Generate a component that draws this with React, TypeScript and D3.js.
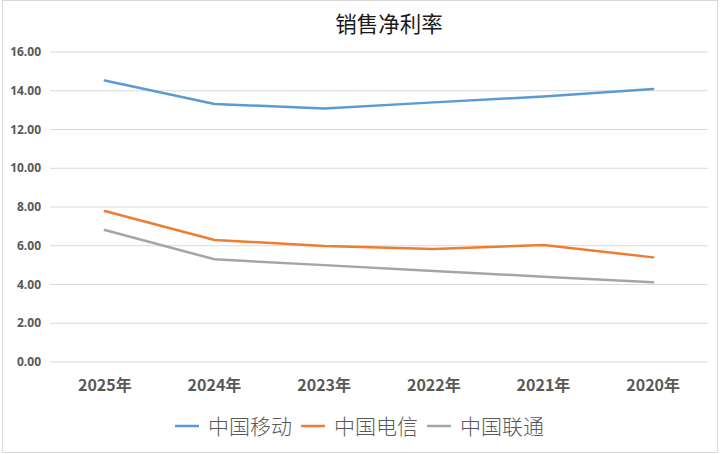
import React from "react";
import * as d3 from "d3";

const categories = ["2025年", "2024年", "2023年", "2022年", "2021年", "2020年"];
const seriesNames = ["中国移动", "中国电信", "中国联通"];
const mobile = [14.53, 13.32, 13.08, 13.4, 13.7, 14.09];
const telecom = [7.79, 6.3, 5.99, 5.83, 6.04, 5.4];
const unicom = [6.81, 5.3, 5.0, 4.7, 4.4, 4.11];
const yTicks = [0, 2, 4, 6, 8, 10, 12, 14, 16];
const colors = ["#5B9BD5", "#ED7D31", "#A5A5A5"];

const W = 720;
const H = 454;
const plot = { left: 50, right: 708, top: 52, bottom: 362 };

export default function App() {
  const x = d3.scaleBand<string>().domain(categories).range([plot.left, plot.right]);
  const y = d3.scaleLinear().domain([0, 16]).range([plot.bottom, plot.top]);
  const line = d3
    .line<number>()
    .x((_, i) => (x(categories[i]) as number) + x.bandwidth() / 2)
    .y((d) => y(d));
  const allSeries = [mobile, telecom, unicom];
  const legendX = [175, 301, 427];

  return (
    <svg
      width={W}
      height={H}
      style={{ position: "absolute", left: 0, top: 0, background: "#fff" }}
      fontFamily="'Noto Sans CJK SC', 'Open Sans', sans-serif"
    >
      <rect x={2.5} y={0.5} width={715} height={452} fill="#fff" stroke="#D9D9D9" strokeWidth={1} />
      <text x={389} y={32} textAnchor="middle" fontSize={21.5} fill="#1a1a1a" fontWeight={400}>
        销售净利率
      </text>
      {yTicks.map((t) => (
        <g key={t}>
          <line x1={plot.left} x2={plot.right} y1={y(t)} y2={y(t)} stroke="#D9D9D9" strokeWidth={1} />
          <text
            x={41}
            y={y(t)}
            dy="0.35em"
            textAnchor="end"
            fontSize={12}
            fontWeight="bold"
            fill="#595959"
            fontFamily="'Open Sans', 'Noto Sans', sans-serif"
          >
            {t.toFixed(2)}
          </text>
        </g>
      ))}
      {categories.map((c) => (
        <text
          key={c}
          x={(x(c) as number) + x.bandwidth() / 2}
          y={391}
          textAnchor="middle"
          fontSize={16}
          fontWeight="bold"
          fill="#595959"
        >
          {c}
        </text>
      ))}
      {allSeries.map((s, i) => (
        <path
          key={i}
          d={line(s) as string}
          fill="none"
          stroke={colors[i]}
          strokeWidth={2.5}
          strokeLinejoin="round"
          strokeLinecap="round"
        />
      ))}
      {seriesNames.map((n, i) => (
        <g key={n}>
          <line
            x1={legendX[i]}
            x2={legendX[i] + 24}
            y1={426}
            y2={426}
            stroke={colors[i]}
            strokeWidth={2.5}
          />
          <text x={legendX[i] + 33} y={434} fontSize={21} fill="#595959" fontWeight={300}>
            {n}
          </text>
        </g>
      ))}
    </svg>
  );
}
